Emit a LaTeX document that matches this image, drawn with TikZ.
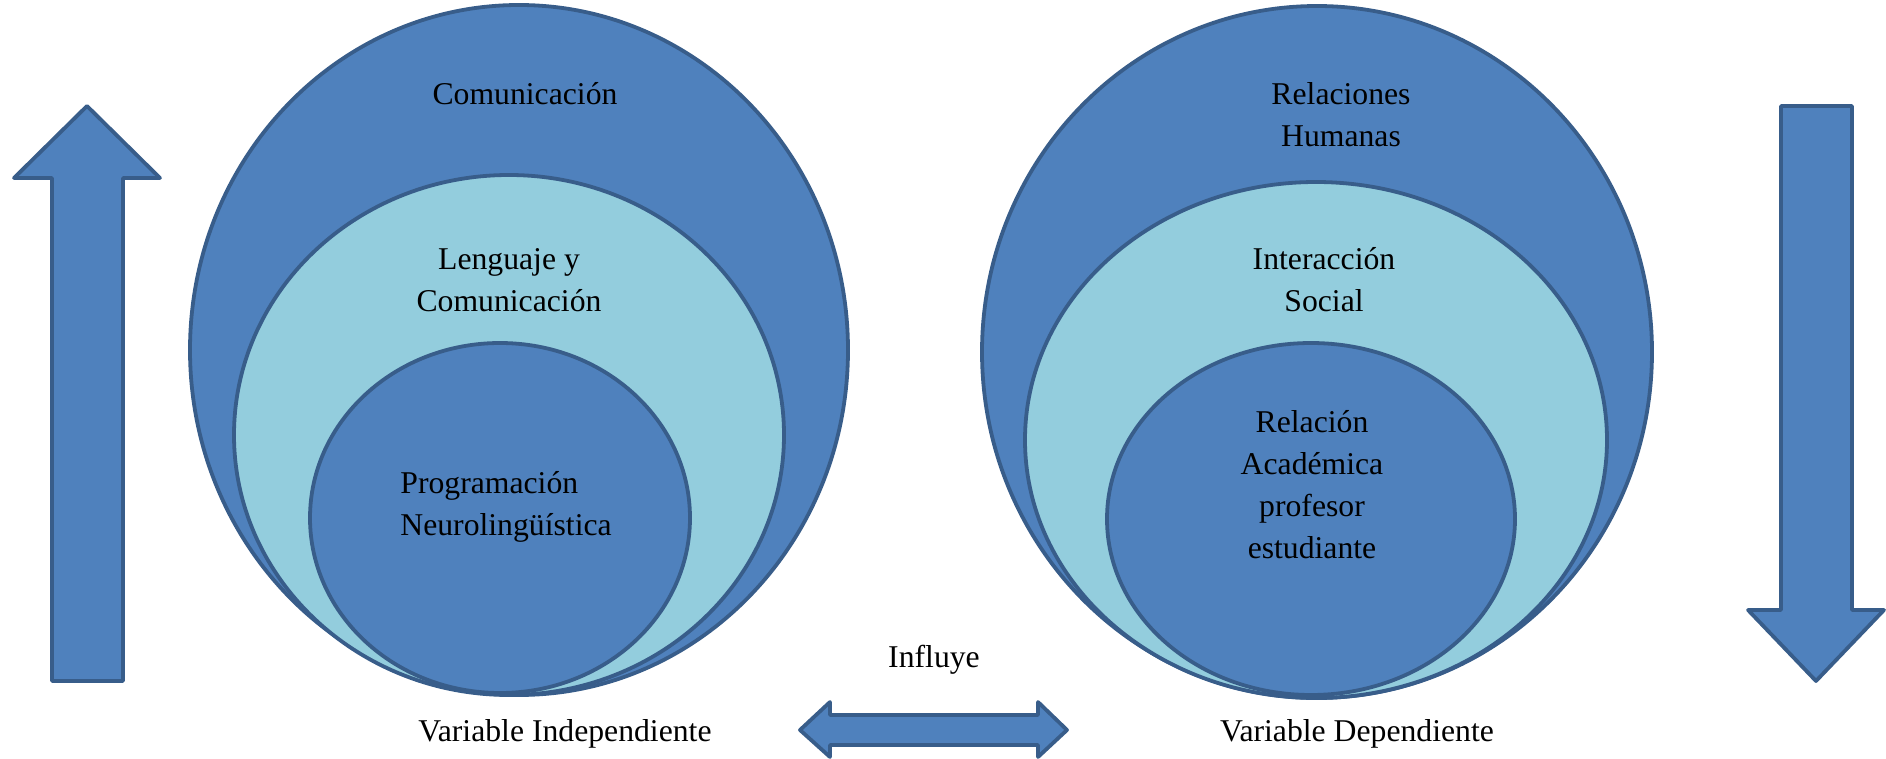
\documentclass[tikz,border=0pt]{standalone}
\usepackage{fontspec}
\setmainfont{Liberation Serif}
\definecolor{dblue}{HTML}{4F81BD}
\definecolor{lblue}{HTML}{93CDDD}
\definecolor{edge}{HTML}{385D8A}
\begin{document}
\begin{tikzpicture}[x=0.5pt,y=-0.5pt,
  shp/.style={draw=edge, line width=1.9pt, line join=round},
  lbl/.style={font=\fontsize{15.85}{21}\selectfont, align=center, inner sep=0pt, text=black}]
\useasboundingbox (0,0) rectangle (1886,759);
% left arrow (up)
\draw[shp, fill=dblue] (52,681) -- (52,178) -- (14,178) -- (87,106) -- (160,178) -- (123,178) -- (123,681) -- cycle;
% right arrow (down)
\draw[shp, fill=dblue] (1781,106) -- (1852,106) -- (1852,610) -- (1884,610) -- (1816,681) -- (1748,610) -- (1781,610) -- cycle;
% double arrow
\draw[shp, fill=dblue] (800,730) -- (830,702) -- (830,715) -- (1038,715) -- (1038,702) -- (1067,730) -- (1038,757) -- (1038,745) -- (830,745) -- (830,757) -- cycle;
% left ellipses
\draw[shp, fill=dblue] (519,350) ellipse [x radius=329, y radius=345];
\draw[shp, fill=lblue] (509,435) ellipse [x radius=275, y radius=260];
\draw[shp, fill=dblue] (500,518) ellipse [x radius=190, y radius=175];
% right ellipses
\draw[shp, fill=dblue] (1317,352) ellipse [x radius=335, y radius=346];
\draw[shp, fill=lblue] (1316,440) ellipse [x radius=291, y radius=258];
\draw[shp, fill=dblue] (1311,519) ellipse [x radius=204, y radius=176];
% texts
\node[lbl] (com) at (525,94) {Comunicación};
\node[lbl] (len) at (509,280) {Lenguaje y\\Comunicación};
\node[lbl, align=left, anchor=west] (pnl) at (400,507) {Programación\\Neurolingüística};
\node[lbl] (rh) at (1341,115) {Relaciones\\Humanas};
\node[lbl] (is) at (1324,280) {Interacción\\Social};
\node[lbl] (ra) at (1312,485) {Relación\\Académica\\profesor\\estudiante};
\node[lbl] (inf) at (934,660) {Influye};
\node[lbl] (vi) at (565,734) {Variable Independiente};
\node[lbl] (vd) at (1357,734) {Variable Dependiente};
\end{tikzpicture}
\end{document}
